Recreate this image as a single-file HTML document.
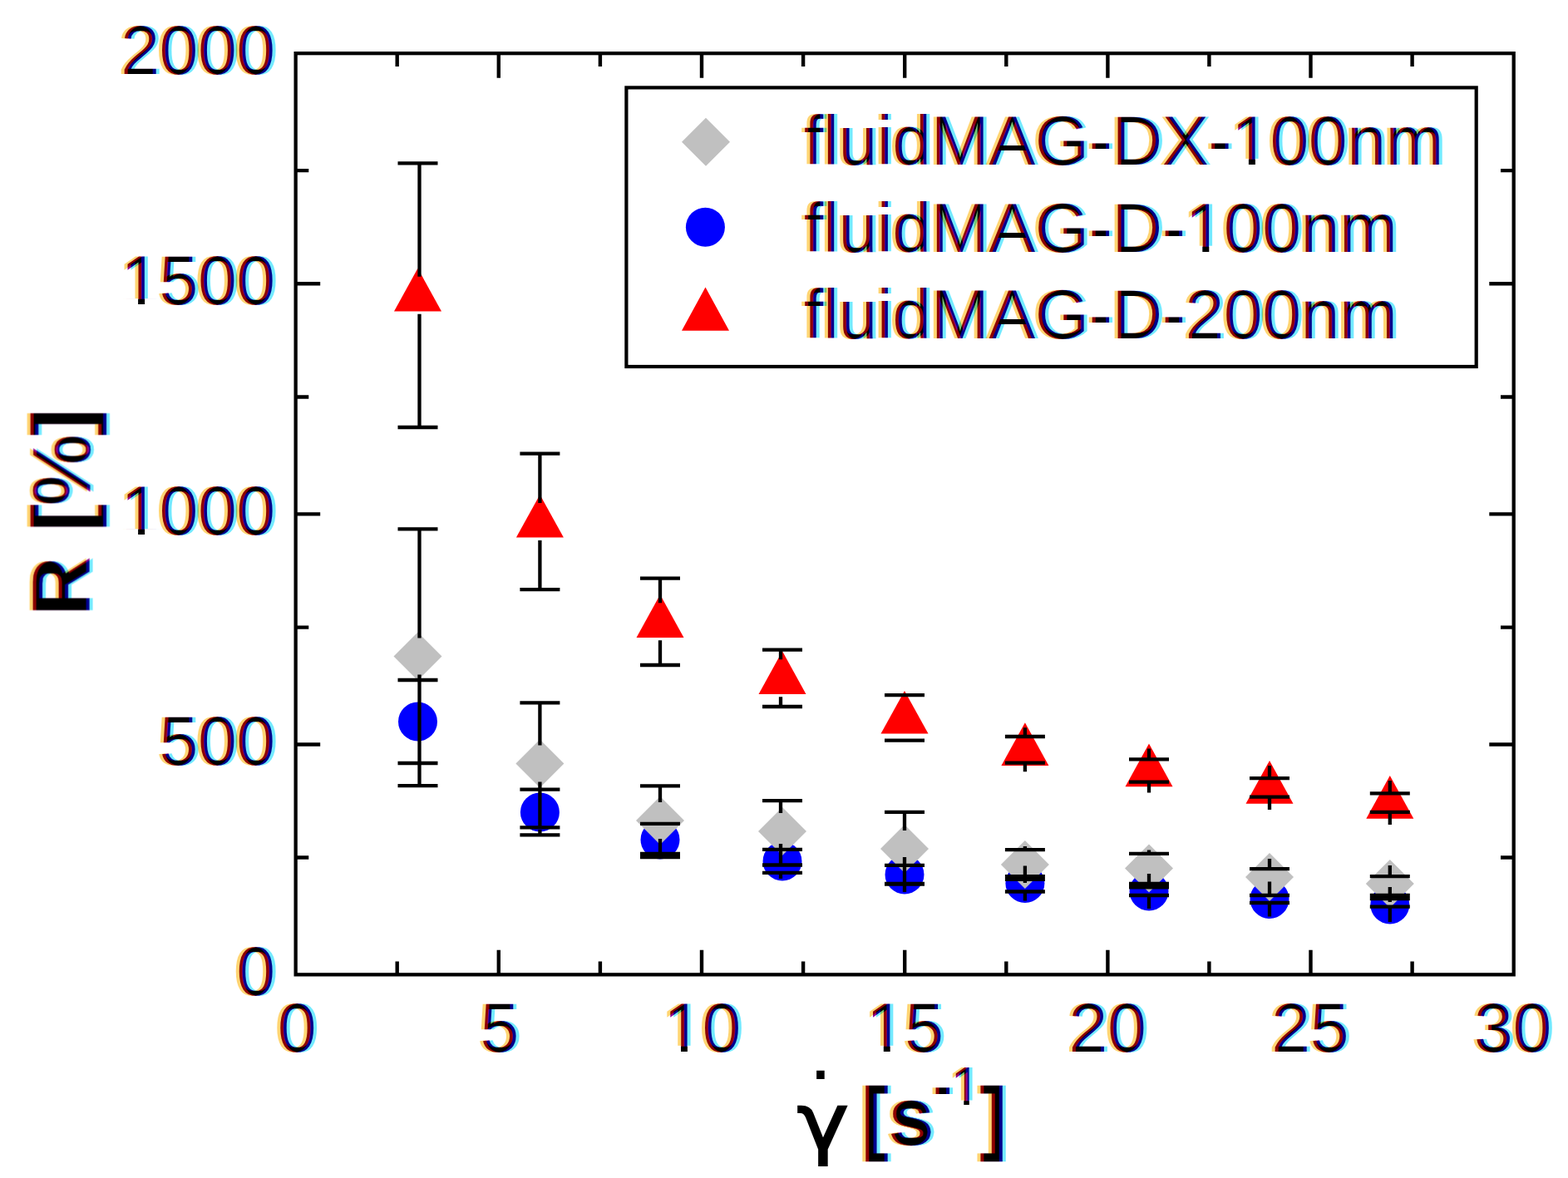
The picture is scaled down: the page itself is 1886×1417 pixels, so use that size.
<!DOCTYPE html><html><head><meta charset="utf-8"><style>html,body{margin:0;padding:0;background:#fff;width:1886px;height:1417px;overflow:hidden}svg{display:block}</style></head><body>
<svg width="1886" height="1417" viewBox="0 0 1886 1417">
<defs><filter id="ct" x="-10%" y="-10%" width="120%" height="120%" color-interpolation-filters="sRGB"><feOffset in="SourceAlpha" dx="3.6" dy="0" result="ra"/><feOffset in="SourceAlpha" dx="-3.6" dy="0" result="ba"/><feColorMatrix in="ra" type="matrix" values="0 0 0 0 0  0 0 0 0 0.85  0 0 0 0 1  0 0 0 1 0" result="rc"/><feColorMatrix in="SourceAlpha" type="matrix" values="0 0 0 0 1  0 0 0 0 0  0 0 0 0 1  0 0 0 1 0" result="gc"/><feColorMatrix in="ba" type="matrix" values="0 0 0 0 1  0 0 0 0 0.7  0 0 0 0 0  0 0 0 1 0" result="bc"/><feBlend in="rc" in2="gc" mode="multiply" result="rg"/><feBlend in="rg" in2="bc" mode="multiply" result="col"/><feComposite in="col" in2="SourceGraphic" operator="arithmetic" k1="0" k2="0.55" k3="0.45" k4="0"/></filter></defs>
<rect x="0" y="0" width="1886" height="1417" fill="#fff"/>
<circle cx="502.5" cy="868.0" r="23.5" fill="#0000ff"/>
<circle cx="649.4" cy="977.0" r="23.5" fill="#0000ff"/>
<circle cx="794.0" cy="1010.0" r="23.5" fill="#0000ff"/>
<circle cx="941.0" cy="1036.0" r="23.5" fill="#0000ff"/>
<circle cx="1088.0" cy="1052.0" r="23.5" fill="#0000ff"/>
<circle cx="1232.9" cy="1062.5" r="23.5" fill="#0000ff"/>
<circle cx="1382.0" cy="1072.0" r="23.5" fill="#0000ff"/>
<circle cx="1527.0" cy="1081.5" r="23.5" fill="#0000ff"/>
<circle cx="1671.8" cy="1088.0" r="23.5" fill="#0000ff"/>
<polygon points="502.5,760.5 531.5,789.5 502.5,818.5 473.5,789.5" fill="#c0c0c0"/>
<polygon points="649.4,889.5 678.4,918.5 649.4,947.5 620.4,918.5" fill="#c0c0c0"/>
<polygon points="794.0,958.0 823.0,987.0 794.0,1016.0 765.0,987.0" fill="#c0c0c0"/>
<polygon points="941.0,971.0 970.0,1000.0 941.0,1029.0 912.0,1000.0" fill="#c0c0c0"/>
<polygon points="1088.0,992.0 1117.0,1021.0 1088.0,1050.0 1059.0,1021.0" fill="#c0c0c0"/>
<polygon points="1232.9,1011.0 1261.9,1040.0 1232.9,1069.0 1203.9,1040.0" fill="#c0c0c0"/>
<polygon points="1382.0,1015.5 1411.0,1044.5 1382.0,1073.5 1353.0,1044.5" fill="#c0c0c0"/>
<polygon points="1527.0,1026.0 1556.0,1055.0 1527.0,1084.0 1498.0,1055.0" fill="#c0c0c0"/>
<polygon points="1671.8,1034.0 1700.8,1063.0 1671.8,1092.0 1642.8,1063.0" fill="#c0c0c0"/>
<polygon points="502.5,322.7 531.0,374.4 474.0,374.4" fill="#ff0000"/>
<polygon points="649.4,594.9 677.9,646.6 620.9,646.6" fill="#ff0000"/>
<polygon points="794.0,715.3 822.5,767.0 765.5,767.0" fill="#ff0000"/>
<polygon points="941.0,783.3 969.5,835.0 912.5,835.0" fill="#ff0000"/>
<polygon points="1088.0,830.9 1116.5,882.6 1059.5,882.6" fill="#ff0000"/>
<polygon points="1232.9,869.3 1261.4,921.0 1204.4,921.0" fill="#ff0000"/>
<polygon points="1382.0,894.5 1410.5,946.2 1353.5,946.2" fill="#ff0000"/>
<polygon points="1527.0,915.0 1555.5,966.7 1498.5,966.7" fill="#ff0000"/>
<polygon points="1671.8,933.0 1700.3,984.7 1643.3,984.7" fill="#ff0000"/>
<path d="M504.5 818.0V847.0M504.5 918.0V889.0M478.5 818.0H526.5M478.5 918.0H526.5M649.4 949.7V956.0M649.4 1004.3V998.0M625.4 949.7H673.4M625.4 1004.3H673.4M794.0 990.8V989.0M794.0 1031.0V1031.0M770.0 990.8H818.0M770.0 1031.0H818.0M939.0 1021.9V1015.0M939.0 1049.8V1057.0M917.0 1021.9H965.0M917.0 1049.8H965.0M1088.0 1040.8V1031.0M1088.0 1063.0V1073.0M1064.0 1040.8H1112.0M1064.0 1063.0H1112.0M1232.9 1054.2V1041.5M1232.9 1072.5V1083.5M1208.9 1054.2H1256.9M1208.9 1072.5H1256.9M1382.0 1067.4V1051.0M1382.0 1077.0V1093.0M1358.0 1067.4H1406.0M1358.0 1077.0H1406.0M1527.0 1077.0V1060.5M1527.0 1086.0V1102.5M1503.0 1077.0H1551.0M1503.0 1086.0H1551.0M1671.8 1081.0V1067.0M1671.8 1090.6V1109.0M1647.8 1081.0H1695.8M1647.8 1090.6H1695.8M504.5 636.3V767.5M504.5 945.2V811.5M478.5 636.3H526.5M478.5 945.2H526.5M649.4 845.4V896.5M649.4 995.3V940.5M625.4 845.4H673.4M625.4 995.3H673.4M794.0 945.4V965.0M794.0 1027.0V1009.0M770.0 945.4H818.0M770.0 1027.0H818.0M939.0 963.2V978.0M939.0 1040.5V1022.0M917.0 963.2H965.0M917.0 1040.5H965.0M1088.0 976.9V999.0M1088.0 1063.5V1043.0M1064.0 976.9H1112.0M1064.0 1063.5H1112.0M1232.9 1022.2V1018.0M1232.9 1057.8V1062.0M1208.9 1022.2H1256.9M1208.9 1057.8H1256.9M1382.0 1026.8V1022.5M1382.0 1063.0V1066.5M1358.0 1026.8H1406.0M1358.0 1063.0H1406.0M1527.0 1045.1V1033.0M1527.0 1077.0V1077.0M1503.0 1045.1H1551.0M1503.0 1077.0H1551.0M1671.8 1054.1V1041.0M1671.8 1077.0V1085.0M1647.8 1054.1H1695.8M1647.8 1077.0H1695.8M504.5 196.3V332.7M504.5 514.0V377.7M478.5 196.3H526.5M478.5 514.0H526.5M649.4 545.7V604.9M649.4 709.1V649.9M625.4 545.7H673.4M625.4 709.1H673.4M794.0 695.7V725.3M794.0 800.0V770.3M770.0 695.7H818.0M770.0 800.0H818.0M939.0 781.6V793.3M939.0 850.0V838.3M917.0 781.6H965.0M917.0 850.0H965.0M1088.0 836.1V836.9M1088.0 890.6V889.9M1064.0 836.1H1112.0M1064.0 890.6H1112.0M1232.9 886.0V875.3M1232.9 917.6V928.3M1208.9 886.0H1256.9M1208.9 917.6H1256.9M1382.0 913.4V900.5M1382.0 940.6V953.5M1358.0 913.4H1406.0M1358.0 940.6H1406.0M1527.0 936.2V921.0M1527.0 958.7V974.0M1503.0 936.2H1551.0M1503.0 958.7H1551.0M1671.8 954.3V939.0M1671.8 976.8V992.0M1647.8 954.3H1695.8M1647.8 976.8H1695.8" stroke="#000" stroke-width="4.3" fill="none"/>
<path d="M355.6 341.3H385.2M1820.7 341.3H1791.3M355.6 618.4H385.2M1820.7 618.4H1791.3M355.6 895.5H385.2M1820.7 895.5H1791.3M355.6 205.1H371.3M1820.7 205.1H1805M355.6 477.5H371.3M1820.7 477.5H1805M355.6 754.6H371.3M1820.7 754.6H1805M355.6 1031.5H371.3M1820.7 1031.5H1805M599.8 1172.3V1142.7M599.8 64.2V93.8M844.0 1172.3V1142.7M844.0 64.2V93.8M1088.2 1172.3V1142.7M1088.2 64.2V93.8M1332.4 1172.3V1142.7M1332.4 64.2V93.8M1576.5 1172.3V1142.7M1576.5 64.2V93.8M477.7 1172.3V1156.4M477.7 64.2V80M721.9 1172.3V1156.4M721.9 64.2V80M966.1 1172.3V1156.4M966.1 64.2V80M1210.3 1172.3V1156.4M1210.3 64.2V80M1454.4 1172.3V1156.4M1454.4 64.2V80M1698.6 1172.3V1156.4M1698.6 64.2V80" stroke="#000" stroke-width="4.4" fill="none"/>
<rect x="355.65" y="64.15" width="1465.05" height="1108.20" fill="none" stroke="#000" stroke-width="4.3"/>
<rect x="753.4" y="105.4" width="1022.3" height="335.6" fill="#fff" stroke="#000" stroke-width="4.2"/>
<polygon points="849.0,141.8 878.0,170.8 849.0,199.8 820.0,170.8" fill="#c0c0c0"/>
<circle cx="848.4" cy="273.2" r="23.5" fill="#0000ff"/>
<polygon points="848.5,345.5 877,397.7 820,397.7" fill="#ff0000"/>
<g filter="url(#ct)" font-family='"Liberation Sans", Arial, Helvetica, sans-serif' font-size="83.4" fill="#000" stroke="#000" stroke-width="0.0"><text x="331" y="88.9" text-anchor="end">2000</text><text x="331" y="366.0" text-anchor="end">1500</text><text x="331" y="643.1" text-anchor="end">1000</text><text x="331" y="920.2" text-anchor="end">500</text><text x="331" y="1197.0" text-anchor="end">0</text><text x="357.2" y="1264.7" text-anchor="middle">0</text><text x="601.0" y="1264.7" text-anchor="middle">5</text><text x="844.7" y="1264.7" text-anchor="middle">10</text><text x="1088.5" y="1264.7" text-anchor="middle">15</text><text x="1332.2" y="1264.7" text-anchor="middle">20</text><text x="1576.0" y="1264.7" text-anchor="middle">25</text><text x="1819.7" y="1264.7" text-anchor="middle">30</text><text x="967" y="197.8">fluidMAG-DX-100nm</text><text x="967" y="302.6">fluidMAG-D-100nm</text><text x="967" y="406.9">fluidMAG-D-200nm</text><text transform="translate(107.8,740.3) rotate(-90)" font-size="97.5" stroke-width="0.4"><tspan x="0" y="0" font-weight="bold">R</tspan><tspan x="101.4" y="0" font-weight="bold">[</tspan><tspan x="131.5" y="0">%</tspan><tspan x="215.9" y="0" font-weight="bold">]</tspan></text><text x="1036" y="1377" font-weight="bold" font-size="98" stroke-width="0.4">[s</text><text x="1123" y="1329" font-weight="bold" font-size="65">-</text><text x="1143.4" y="1329" font-size="65">1</text><text x="1178.5" y="1377" font-weight="bold" font-size="98" stroke-width="0.4">]</text></g>
<rect x="147.0" y="359.1" width="19.1" height="8.6" fill="#fff"/>
<rect x="174.1" y="359.1" width="18.4" height="8.6" fill="#fff"/>
<rect x="147.0" y="636.2" width="19.1" height="8.6" fill="#fff"/>
<rect x="174.1" y="636.2" width="18.4" height="8.6" fill="#fff"/>
<rect x="799.9" y="1257.8" width="19.1" height="8.6" fill="#fff"/>
<rect x="826.9" y="1257.8" width="18.4" height="8.6" fill="#fff"/>
<rect x="1043.7" y="1257.8" width="19.1" height="8.6" fill="#fff"/>
<rect x="1070.7" y="1257.8" width="18.4" height="8.6" fill="#fff"/>
<rect x="1482.8" y="190.9" width="19.1" height="8.6" fill="#fff"/>
<rect x="1509.9" y="190.9" width="18.4" height="8.6" fill="#fff"/>
<rect x="1427.2" y="295.7" width="19.1" height="8.6" fill="#fff"/>
<rect x="1454.3" y="295.7" width="18.4" height="8.6" fill="#fff"/>
<rect x="1143.5" y="1323.5" width="15.8" height="7.2" fill="#fff"/>
<rect x="1165.8" y="1323.5" width="15.3" height="7.2" fill="#fff"/>
<text transform="translate(958.5,1381.7) scale(1.118,1)" font-family='"DejaVu Sans", sans-serif' font-size="95" fill="#000" stroke="#000" stroke-width="1.8">γ</text>
<text x="977.5" y="1298.1" font-family='"Liberation Sans", Arial, Helvetica, sans-serif' font-weight="bold" font-size="68" fill="#000">.</text>
</svg></body></html>
